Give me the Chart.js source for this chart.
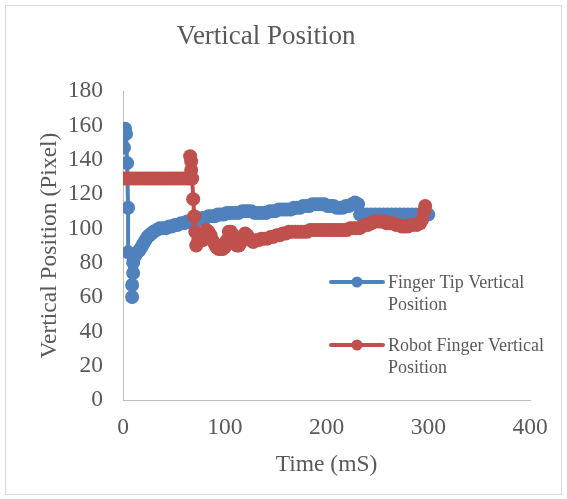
<!DOCTYPE html>
<html>
<head>
<meta charset="utf-8">
<script src="https://cdn.jsdelivr.net/npm/chart.js@4.4.1/dist/chart.umd.min.js"></script>
<style>
  html, body { margin: 0; padding: 0; background: #ffffff; }
  #wrap { position: relative; width: 567px; height: 499px; }
</style>
</head>
<body>
<div id="wrap"><canvas id="c" width="567" height="499"></canvas></div>
<script>
// ---- data ----
const chartTitle = "Vertical Position";
const xAxisTitle = "Time (mS)";
const yAxisTitle = "Vertical Position (Pixel)";
const tipLabel = "Finger Tip Vertical Position";
const robotLabel = "Robot Finger Vertical Position";
const xTicks = [0, 100, 200, 300, 400];
const yTicks = [0, 20, 40, 60, 80, 100, 120, 140, 160, 180];

const tipTime = [1, 2, 3, 4, 5, 5, 9, 9, 10, 10, 12, 14, 16, 18, 20, 22, 24, 26, 28, 30, 33, 36, 39, 42, 45, 48, 51, 54, 57, 60, 63, 66, 69, 72, 75, 78, 81, 84, 87, 90, 93, 96, 99, 102, 105, 108, 111, 114, 117, 120, 123, 126, 129, 132, 135, 138, 141, 144, 147, 150, 153, 156, 159, 162, 165, 168, 171, 174, 177, 180, 183, 186, 189, 192, 195, 198, 201, 204, 207, 210, 213, 216, 219, 222, 225, 228, 231, 233, 236, 240, 244, 248, 252, 256, 260, 264, 268, 272, 276, 280, 284, 288, 292, 296, 300];
const tipPos  = [147, 158, 155, 138, 112, 86, 67, 60, 74, 80, 84, 86, 87, 89, 91, 93, 95, 96, 97, 98, 99, 100, 100, 100, 101, 101, 102, 102, 103, 103, 104, 104, 105, 105, 105, 106, 106, 107, 107, 107, 108, 108, 108, 109, 109, 109, 109, 109, 110, 110, 110, 110, 109, 109, 109, 109, 109, 110, 110, 110, 111, 111, 111, 111, 111, 112, 112, 112, 113, 113, 113, 114, 114, 114, 114, 114, 113, 113, 113, 112, 112, 112, 113, 113, 114, 115, 114, 108, 108, 108, 108, 108, 108, 108, 108, 108, 108, 108, 108, 108, 108, 108, 108, 108, 108];

const robotTime = [0, 3, 6, 9, 12, 15, 18, 21, 24, 27, 30, 33, 36, 39, 42, 45, 48, 51, 54, 57, 60, 63, 65, 66, 67, 67, 68, 69, 70, 71, 72, 74, 76, 78, 80, 82, 84, 86, 88, 90, 92, 94, 96, 98, 100, 102, 104, 106, 108, 110, 112, 114, 116, 118, 120, 122, 124, 126, 128, 130, 133, 136, 139, 142, 145, 148, 151, 154, 157, 160, 163, 166, 169, 172, 175, 178, 181, 184, 187, 190, 193, 196, 199, 202, 205, 208, 211, 214, 217, 220, 223, 226, 229, 232, 235, 238, 241, 244, 247, 250, 253, 256, 259, 262, 265, 268, 271, 274, 277, 280, 283, 286, 289, 292, 294, 296, 297];
const robotPos  = [129, 129, 129, 129, 129, 129, 129, 129, 129, 129, 129, 129, 129, 129, 129, 129, 129, 129, 129, 129, 129, 129, 129, 142, 139, 134, 129, 117, 107, 98, 90, 93, 95, 93, 96, 99, 98, 96, 93, 91, 89, 88, 88, 88, 89, 93, 98, 98, 96, 93, 90, 90, 92, 95, 97, 96, 94, 93, 92, 93, 93, 94, 94, 94, 95, 95, 96, 96, 97, 97, 98, 98, 98, 98, 98, 98, 98, 99, 99, 99, 99, 99, 99, 99, 99, 99, 99, 99, 99, 99, 100, 100, 100, 100, 101, 102, 102, 103, 104, 104, 104, 104, 103, 103, 103, 102, 102, 101, 101, 101, 102, 102, 102, 103, 105, 110, 113];

const BLUE = "#4F81BD";
const RED = "#C0504D";
const TEXT = "#595959";
const FONT = "'Liberation Serif', 'Times New Roman', serif";

const toXY = (xs, ys) => xs.map((x, i) => ({ x: x, y: ys[i] }));

const framePlugin = {
  id: 'frame',
  beforeDraw(chart) {
    const ctx = chart.ctx;
    ctx.save();
    ctx.fillStyle = '#ffffff';
    ctx.fillRect(0, 0, chart.width, chart.height);
    ctx.strokeStyle = '#d9d9d9';
    ctx.lineWidth = 1;
    ctx.strokeRect(5.5, 5.5, 556, 489);
    ctx.restore();
  },
  afterDraw(chart) {
    const ctx = chart.ctx;
    ctx.save();
    ctx.fillStyle = TEXT;
    ctx.font = "27px " + FONT;
    ctx.textAlign = 'center';
    ctx.textBaseline = 'alphabetic';
    ctx.fillText(chartTitle, 266, 44);
    const items = [
      { ds: chart.data.datasets[0], y: 282, lines: ["Finger Tip Vertical", "Position"] },
      { ds: chart.data.datasets[1], y: 345, lines: ["Robot Finger Vertical", "Position"] }
    ];
    ctx.font = "18px " + FONT;
    ctx.textAlign = 'left';
    items.forEach(it => {
      ctx.strokeStyle = it.ds.borderColor;
      ctx.lineWidth = 4;
      ctx.lineCap = 'round';
      ctx.beginPath();
      ctx.moveTo(331, it.y);
      ctx.lineTo(383, it.y);
      ctx.stroke();
      ctx.fillStyle = it.ds.backgroundColor;
      ctx.beginPath();
      ctx.arc(357, it.y, 5.5, 0, Math.PI * 2);
      ctx.fill();
      ctx.fillStyle = TEXT;
      ctx.fillText(it.lines[0], 388, it.y + 6);
      ctx.fillText(it.lines[1], 388, it.y + 28);
    });
    ctx.restore();
  }
};

new Chart(document.getElementById('c'), {
  type: 'scatter',
  data: {
    datasets: [
      {
        label: tipLabel,
        data: toXY(tipTime, tipPos),
        showLine: true,
        borderColor: BLUE,
        backgroundColor: BLUE,
        borderWidth: 4,
        borderJoinStyle: 'round',
        pointRadius: 7,
        pointBorderWidth: 0,
        pointBackgroundColor: BLUE,
        tension: 0,
        order: 1
      },
      {
        label: robotLabel,
        data: toXY(robotTime, robotPos),
        showLine: true,
        borderColor: RED,
        backgroundColor: RED,
        borderWidth: 4,
        borderJoinStyle: 'round',
        pointRadius: 7,
        pointBorderWidth: 0,
        pointBackgroundColor: RED,
        tension: 0,
        order: 0
      }
    ]
  },
  options: {
    responsive: false,
    animation: false,
    devicePixelRatio: 1,
    layout: { padding: { left: 0, top: 91, right: 37, bottom: 0 } },
    plugins: {
      legend: { display: false },
      title: { display: false },
      tooltip: { enabled: false }
    },
    scales: {
      x: {
        type: 'linear',
        min: xTicks[0],
        max: xTicks[xTicks.length - 1],
        afterFit(scale) { scale.height = 99; },
        afterBuildTicks(scale) { scale.ticks = xTicks.map(v => ({ value: v })); },
        grid: { display: false, drawTicks: false },
        border: { display: true, color: '#bfbfbf', width: 1 },
        ticks: {
          color: TEXT,
          font: { family: FONT, size: 23.5 },
          padding: 14,
          maxRotation: 0
        },
        title: {
          display: true,
          text: xAxisTitle,
          color: TEXT,
          font: { family: FONT, size: 23.5 },
          padding: { top: 0, bottom: 20 }
        }
      },
      y: {
        type: 'linear',
        min: yTicks[0],
        max: yTicks[yTicks.length - 1],
        afterFit(scale) { scale.width = 123; },
        afterBuildTicks(scale) { scale.ticks = yTicks.map(v => ({ value: v })); },
        grid: { display: false, drawTicks: false },
        border: { display: true, color: '#bfbfbf', width: 1 },
        ticks: {
          color: TEXT,
          font: { family: FONT, size: 23.5 },
          padding: 20
        },
        title: {
          display: true,
          text: yAxisTitle,
          color: TEXT,
          font: { family: FONT, size: 23.5 },
          padding: { top: 36, bottom: 0 }
        }
      }
    }
  },
  plugins: [framePlugin]
});
</script>
</body>
</html>
